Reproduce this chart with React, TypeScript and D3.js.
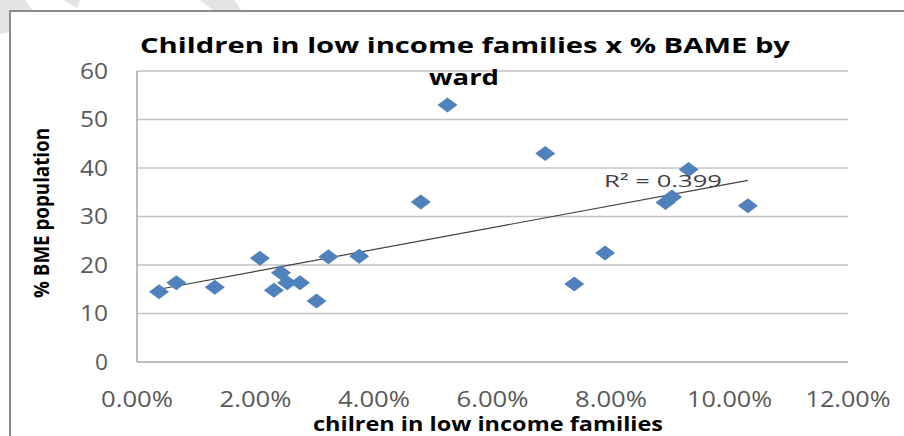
import React from "react";
import * as d3 from "d3";

const xValues = [0.00372, 0.00664, 0.01313, 0.02074, 0.0231, 0.0243, 0.02535, 0.0275, 0.0303, 0.0323, 0.0375, 0.0479, 0.0524, 0.0689, 0.0738, 0.079, 0.0892, 0.0903, 0.0931, 0.1031];
const yValues = [14.5, 16.35, 15.4, 21.4, 14.8, 18.4, 16.35, 16.35, 12.6, 21.7, 21.8, 33.0, 53.0, 43.0, 16.1, 22.5, 32.9, 34.0, 39.7, 32.2];
const xTicks = [0, 0.02, 0.04, 0.06, 0.08, 0.1, 0.12];
const yTicks = [0, 10, 20, 30, 40, 50, 60];
const titleLines = ["Children in low income families x % BAME by", "ward"];
const xTitle = "chilren in low income families";
const yTitle = "% BME population";
const r2Label = "R² = 0.399";

const FONT = "'Open Sans', 'Noto Sans', sans-serif";

export default function App() {
  const x = d3.scaleLinear().domain([0, 0.12]).range([137, 848]);
  const y = d3.scaleLinear().domain([0, 60]).range([362, 71]);
  const fmt = d3.format(".2%");

  const n = xValues.length;
  const mx = d3.mean(xValues) as number;
  const my = d3.mean(yValues) as number;
  let sxy = 0, sxx = 0;
  for (let i = 0; i < n; i++) {
    sxy += (xValues[i] - mx) * (yValues[i] - my);
    sxx += (xValues[i] - mx) ** 2;
  }
  const slope = sxy / sxx;
  const intercept = my - slope * mx;
  const x0 = d3.min(xValues) as number;
  const x1 = d3.max(xValues) as number;
  const trend = d3.line<number>().x((d) => x(d)).y((d) => y(intercept + slope * d))([x0, x1]);

  const diamond = "M0,-7.5L10,0L0,7.5L-10,0Z";

  return (
    <svg width={904} height={436} style={{ position: "absolute", left: 0, top: 0, background: "#fff" }} fontFamily={FONT}>
      <rect x={0} y={0} width={904} height={436} fill="#fff" />
      {/* watermark fragments */}
      <polygon points="0,0 25,0 33,11 10,11 10,32 0,34" fill="#e4e4e4" />
      <polygon points="63,0 80,0 77,8" fill="#e4e4e4" />
      <polygon points="200,0 234,0 242,11 214,11" fill="#e4e4e4" />
      {/* chart frame */}
      <rect x={10} y={11} width={900} height={430} fill="#fff" />
      <path d="M10,436V11H904" fill="none" stroke="#8c8c8c" strokeWidth={2} />

      {/* gridlines */}
      {yTicks.map((t) => (
        <line key={"g" + t} x1={137} x2={848} y1={y(t)} y2={y(t)} stroke={t === 0 ? "#a6a6a6" : "#c4c4c4"} strokeWidth={1.5} />
      ))}
      <line x1={137} x2={137} y1={71} y2={362} stroke="#a6a6a6" strokeWidth={1.5} />

      {/* y tick labels */}
      {yTicks.map((t) => (
        <text key={"yt" + t} x={108} y={y(t) + 7.5} textAnchor="end" fontSize={21} fill="#595959"
          textLength={t === 0 ? 13 : 28} lengthAdjust="spacingAndGlyphs">{String(t)}</text>
      ))}
      {/* x tick labels */}
      {xTicks.map((t) => {
        const s = fmt(t);
        return (
          <text key={"xt" + t} x={x(t)} y={407} textAnchor="middle" fontSize={21} fill="#595959"
            textLength={s.length > 5 ? 85 : 72} lengthAdjust="spacingAndGlyphs">{s}</text>
        );
      })}

      {/* trendline */}
      <path d={trend || ""} fill="none" stroke="#404040" strokeWidth={1.2} />

      {/* points */}
      {xValues.map((v, i) => (
        <path key={"p" + i} d={diamond} transform={`translate(${x(v)},${y(yValues[i])})`} fill="#4F81BD" />
      ))}

      {/* R2 label */}
      <text x={604} y={187} fontSize={17} fill="#404040" textLength={118} lengthAdjust="spacingAndGlyphs">{r2Label}</text>

      {/* title */}
      <text x={465} y={53} textAnchor="middle" fontSize={22} fontWeight="bold" fill="#000"
        textLength={650} lengthAdjust="spacingAndGlyphs">{titleLines[0]}</text>
      <text x={464} y={85} textAnchor="middle" fontSize={22} fontWeight="bold" fill="#000"
        textLength={70} lengthAdjust="spacingAndGlyphs">{titleLines[1]}</text>

      {/* axis titles */}
      <text x={488} y={431} textAnchor="middle" fontSize={19} fontWeight="bold" fill="#000"
        textLength={350} lengthAdjust="spacingAndGlyphs">{xTitle}</text>
      <text transform="translate(49,213) rotate(-90)" textAnchor="middle" fontSize={21} fontWeight="bold" fill="#000"
        textLength={170} lengthAdjust="spacingAndGlyphs">{yTitle}</text>
    </svg>
  );
}
